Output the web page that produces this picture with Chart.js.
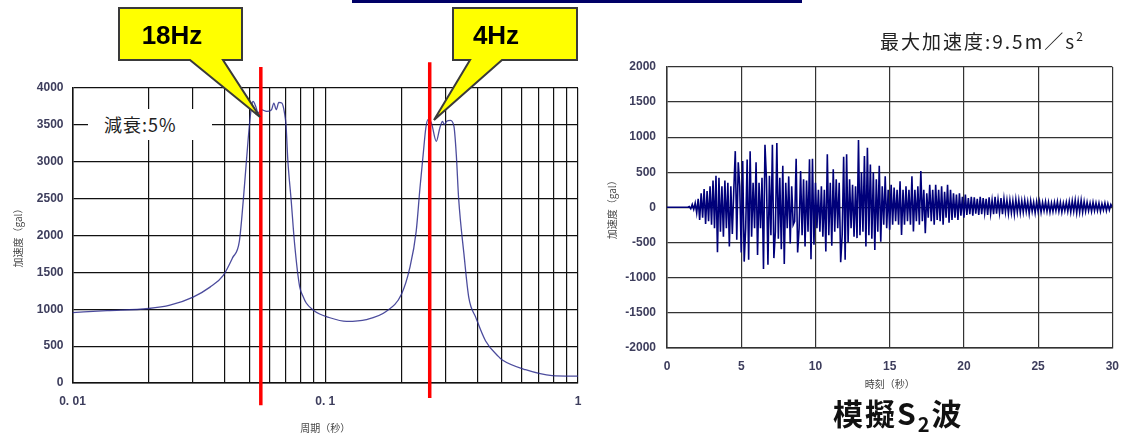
<!DOCTYPE html>
<html>
<head>
<meta charset="utf-8">
<script src="https://cdn.jsdelivr.net/npm/chart.js@4.4.0/dist/chart.umd.min.js"></script>
<style>
html, body { margin: 0; padding: 0; background: #fff; }
body { width: 1131px; height: 436px; position: relative; overflow: hidden; font-family: "Noto Sans CJK JP", "Liberation Sans", sans-serif; }
#spectrum { position: absolute; left: 0; top: 0; }
#wave { position: absolute; left: 600px; top: 0; }
#topbar { position: absolute; left: 352px; top: 0; width: 450px; height: 3px; background: #000066; }
#damping { position: absolute; left: 88px; top: 109px; width: 124px; height: 31px; background: #fff; font-size: 18px; letter-spacing: 1px; line-height: 31px; color: #222; box-sizing: border-box; padding-left: 16px; }
#peak { position: absolute; left: 880px; top: 27px; font-size: 19px; letter-spacing: 2px; color: #222; white-space: nowrap; }
#peak sup { font-size: 12px; vertical-align: 8px; }
#wavename { position: absolute; left: 833px; top: 394px; font-family: "Noto Sans CJK JP", sans-serif; font-weight: bold; font-size: 30px; letter-spacing: 2px; color: #111; white-space: nowrap; line-height: 36px; }
#wavename sub { font-size: 20px; vertical-align: -7px; }
#callouts { position: absolute; left: 0; top: 0; }
</style>
</head>
<body>
<div id="topbar"></div>
<canvas id="spectrum" width="600" height="436"></canvas>
<canvas id="wave" width="531" height="436"></canvas>
<div id="damping">減衰:5%</div>
<div id="peak">最大加速度:9.5m／s<sup>2</sup></div>
<div id="wavename">模擬S<sub>2</sub>波</div>
<svg id="callouts" width="1131" height="436">
  <path d="M119,8 H242 V60 H223 L260,117 L190,60 H119 Z" fill="#ffff00" stroke="#3a3a3a" stroke-width="2"/>
  <path d="M453,8 H577 V60 H502 L434,120 L470,60 H453 Z" fill="#ffff00" stroke="#3a3a3a" stroke-width="2"/>
  <text x="172" y="44" text-anchor="middle" font-family="Liberation Sans, Arial, sans-serif" font-weight="bold" font-size="26" fill="#000">18Hz</text>
  <text x="496" y="44" text-anchor="middle" font-family="Liberation Sans, Arial, sans-serif" font-weight="bold" font-size="26" fill="#000">4Hz</text>
</svg>
<script>
// response spectrum (period in s, acceleration in gal)
var periods = [0.010, 0.0137, 0.020, 0.0243, 0.030, 0.035, 0.0395, 0.043, 0.0457, 0.0474, 0.0488,
  0.0502, 0.0511, 0.0518, 0.0531, 0.0542, 0.0558, 0.0586, 0.0613, 0.0626, 0.064, 0.0655, 0.0673,
  0.069, 0.070, 0.0711, 0.0733, 0.0756, 0.0792, 0.0818, 0.0841, 0.0895, 0.095, 0.101, 0.1214,
  0.1454, 0.174, 0.200, 0.216, 0.229, 0.237, 0.244, 0.250, 0.255, 0.263, 0.275, 0.284, 0.291,
  0.296, 0.302, 0.313, 0.323, 0.330, 0.337, 0.354, 0.370, 0.394, 0.431, 0.485, 0.50, 0.62, 0.79, 1.0];
var spectrum = [955, 980, 1010, 1055, 1165, 1300, 1460, 1700, 1916, 2480, 3024,
  3525, 3750, 3818, 3750, 3660, 3706, 3683, 3706, 3796, 3706, 3805, 3796,
  3660, 3480, 3024, 2480, 1895, 1306, 1171, 1085, 990, 935, 900, 836,
  860, 970, 1200, 1560, 2056, 2644, 3096, 3458, 3570, 3525, 3276, 3458, 3548,
  3503, 3548, 3562, 3480, 3096, 2508, 1740, 1153, 890, 570, 357, 316, 180, 100, 92];
var markerPeriods = [0.0556, 0.259];   // 18Hz, 4Hz
var markerTop = [4285, 4350];
var markerBottom = [-300, -205];
var periodGrid = [0.01, 0.02, 0.03, 0.04, 0.05, 0.06, 0.07, 0.08, 0.09,
  0.1, 0.2, 0.3, 0.4, 0.5, 0.6, 0.7, 0.8, 0.9, 1];
var periodLabels = { '0.01': '0. 01', '0.1': '0. 1', '1': '1' };

// simulated S2 wave, one sample every 0.1 s from 0 to 30 s (gal)
var waveStep = 0.1;
var wave = [
  0, 0, 0, 0, 0, 0, 0, 0, 0, 0,
  0, 0, 0, 0, 0, 10, -20, 40, -30, 60,
  -80, 120, -180, 200, -150, 260, -240, 230, -200, 300,
  -250, 380, -300, 450, -640, 420, -350, 300, -420, 380,
  -300, 350, -560, 300, -380, 250, 800, -465, 640, 300,
  -645, 660, -775, -300, 680, -750, 800, -420, 350, -300,
  640, -680, 350, -300, 420, -880, 890, 400, -820, 450,
  -400, 890, -725, -350, 915, -450, 420, -600, 590, -810,
  350, -300, 440, -515, 300, -250, -200, 690, -645, -300,
  515, -400, 400, -560, 380, -350, 685, -740, 690, -535,
  350, -300, 250, -350, 300, -420, 250, -630, 755, -400,
  350, -550, 540, -350, 400, -300, 350, -785, -400, 720,
  -750, 755, -500, 400, -300, 320, -420, 300, -440, 960,
  -400, 500, -350, 730, -560, 850, -400, 610, -450, 500,
  -610, 400, -350, 590, -490, 300, -250, 440, -300, 250,
  -320, 320, -250, 280, -200, 250, -250, 370, -395, 250,
  -250, 300, -200, 250, -250, 440, -345, 250, -200, 300,
  -250, 515, -200, 250, -370, 200, -150, 320, -200, 250,
  -250, 320, -180, 250, -200, 300, -250, 220, -150, 320,
  -220, 250, -180, 200, -150, 180, -180, 200, -120, 150,
  -150, 180, -110, 130, -100, 150, -120, 140, -90, 120,
  -110, 150, -100, 130, -80, 120, -110, 140, -90, 100,
  -100, 150, -90, 110, -80, 130, -100, 120, -70, 100,
  -90, 100, -80, 90, -100, 110, -70, 100, -80, 90,
  -70, 100, -60, 80, -90, 90, -60, 70, -80, 80,
  -60, 80, -70, 70, -50, 80, -60, 70, -70, 60,
  -60, 70, -50, 80, -60, 70, -70, 60, -50, 70,
  -60, 80, -70, 90, -60, 100, -80, 90, -70, 100,
  -70, 80, -60, 70, -50, 60, -60, 70, -50, 60,
  -50, 60, -60, 50, -40, 60, -50, 50, -40, 40,
  0
];

var tickFont = { family: 'Liberation Sans', size: 12, weight: 'bold' };
var titleFont = { family: 'Noto Sans CJK JP', size: 10 };
var plainNumber = function (v) { return String(v); };

var specData = periods.map(function (p, i) { return { x: p, y: spectrum[i] }; });
var markerSets = markerPeriods.map(function (p, i) {
  return {
    data: [{ x: p, y: markerBottom[i] }, { x: p, y: markerTop[i] }],
    borderColor: '#ff0000', borderWidth: 3.5, pointRadius: 0, clip: false, order: 0
  };
});

new Chart(document.getElementById('spectrum'), {
  type: 'line',
  data: {
    datasets: [{
      data: specData,
      borderColor: 'rgba(45, 45, 140, 0.85)',
      borderWidth: 1.3,
      pointRadius: 0,
      cubicInterpolationMode: 'monotone',
      order: 1
    }].concat(markerSets)
  },
  options: {
    responsive: false,
    animation: false,
    layout: { padding: { top: 88, right: 22, bottom: 2, left: 0 } },
    plugins: { legend: { display: false }, tooltip: { enabled: false } },
    scales: {
      x: {
        type: 'logarithmic',
        min: 0.01, max: 1,
        afterBuildTicks: function (scale) {
          scale.ticks = periodGrid.map(function (v) { return { value: v }; });
        },
        afterFit: function (scale) { scale.height = 51; },
        grid: { color: '#111', lineWidth: 1.2, drawTicks: false },
        border: { color: '#111', width: 1.5 },
        ticks: {
          autoSkip: false, maxRotation: 0, padding: 11, color: '#3d3d5c', font: tickFont,
          callback: function (v) { return periodLabels[String(+v.toFixed(2))] || ''; }
        },
        title: { display: true, text: '周期（秒）', color: '#444', font: titleFont, padding: { top: 0, bottom: 0 } }
      },
      y: {
        min: 0, max: 4000,
        afterFit: function (scale) { scale.width = 72.5; },
        grid: { color: '#111', lineWidth: 1.2, drawTicks: false },
        border: { color: '#111', width: 1.5 },
        ticks: { stepSize: 500, padding: 9, color: '#3d3d5c', font: tickFont, callback: plainNumber },
        title: { display: true, text: '加速度（gal）', color: '#444', font: titleFont, padding: { top: 12, bottom: 0 } }
      }
    }
  }
});

var waveData = wave.map(function (v, i) { return { x: Math.round(i * waveStep * 10) / 10, y: v }; });

new Chart(document.getElementById('wave'), {
  type: 'line',
  data: {
    datasets: [{
      data: waveData,
      borderColor: '#00007a',
      borderWidth: 1.6,
      pointRadius: 0,
      tension: 0
    }]
  },
  options: {
    responsive: false,
    animation: false,
    layout: { padding: { top: 67, right: 12, bottom: 46, left: 0 } },
    plugins: { legend: { display: false }, tooltip: { enabled: false } },
    scales: {
      x: {
        type: 'linear',
        min: 0, max: 30,
        afterFit: function (scale) { scale.height = 42.5; },
        grid: { color: '#333', lineWidth: 1.2, drawTicks: false },
        border: { color: '#333', width: 1.5 },
        ticks: { stepSize: 5, padding: 12, color: '#3d3d5c', font: tickFont, maxRotation: 0, callback: plainNumber },
        title: { display: true, text: '時刻（秒）', color: '#444', font: titleFont, padding: { top: 0, bottom: 0 } }
      },
      y: {
        min: -2000, max: 2000,
        afterFit: function (scale) { scale.width = 67; },
        grid: { color: '#333', lineWidth: 1.2, drawTicks: false },
        border: { color: '#333', width: 1.5 },
        ticks: { stepSize: 500, padding: 11, color: '#3d3d5c', font: tickFont, callback: plainNumber },
        title: { display: true, text: '加速度（gal）', color: '#444', font: titleFont, padding: { top: 6, bottom: 0 } }
      }
    }
  }
});
</script>
</body>
</html>
